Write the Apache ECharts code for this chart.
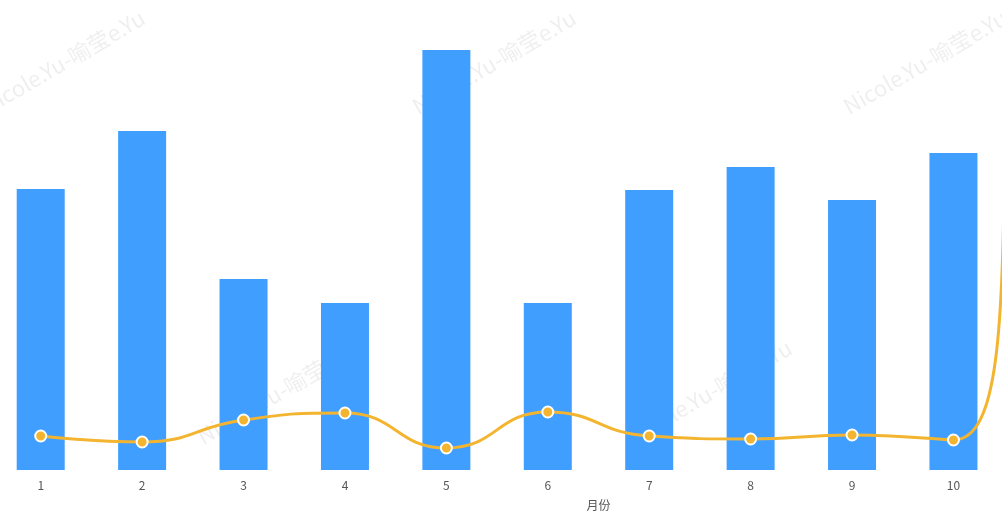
<!DOCTYPE html>
<html>
<head>
<meta charset="utf-8">
<script src="https://cdn.jsdelivr.net/npm/echarts@6/dist/echarts.min.js"></script>
<style>
html,body{margin:0;padding:0;background:#fff;overflow:hidden;width:1002px;height:523px;position:relative;}
#chart{position:absolute;left:-10px;top:0;width:1217px;height:523px;}
</style>
</head>
<body>
<div id="chart"></div>
<script>
// Data
const months = ['1','2','3','4','5','6','7','8','9','10','11','12'];
const barValues = [281, 339, 191, 167, 420, 167, 280, 303, 270, 317, 300, 290];
const lineValues = [34, 28, 50, 57, 22, 58, 34, 31, 35, 30, 880, 940];
const axisName = '月份';
const watermarkText = 'Nicole.Yu-喻莹e.Yu';

const chart = echarts.init(document.getElementById('chart'), null, {renderer: 'canvas'});

// watermark centers in page coordinates (chart div is shifted 10px left)
const wmCenters = [[63,62],[494,62],[925,62],[-152,392],[279,392],[710,392],[1141,392]];
const graphics = wmCenters.map(c => ({
  type: 'text',
  x: c[0] + 10, y: c[1],
  rotation: Math.PI / 6,
  z: 0,
  silent: true,
  style: {
    text: watermarkText,
    fontSize: 22,
    fontFamily: 'Microsoft YaHei, Noto Sans CJK SC, sans-serif',
    fill: 'rgba(0,0,0,0.065)',
    align: 'center',
    verticalAlign: 'middle'
  }
}));

chart.setOption({
  animation: false,
  backgroundColor: '#fff',
  graphic: graphics,
  grid: {left: 0, right: 0, top: 30, bottom: 53, containLabel: false},
  xAxis: {
    type: 'category',
    data: months,
    name: axisName,
    nameLocation: 'middle',
    nameGap: 29,
    nameTextStyle: {color: '#555', fontSize: 12, fontFamily: 'Microsoft YaHei, Noto Sans CJK SC, sans-serif'},
    axisLine: {show: false},
    axisTick: {show: false},
    axisLabel: {color: '#555', fontSize: 12, margin: 9, fontFamily: 'Microsoft YaHei, Noto Sans CJK SC, sans-serif'}
  },
  yAxis: [
    {type: 'value', min: 0, max: 440, show: false, splitLine: {show: false}},
    {type: 'value', min: 0, max: 440, show: false, splitLine: {show: false}}
  ],
  series: [
    {
      type: 'bar',
      data: barValues,
      barWidth: 48,
      yAxisIndex: 0,
      itemStyle: {color: '#409EFF'},
      z: 2
    },
    {
      type: 'line',
      data: lineValues,
      yAxisIndex: 1,
      smooth: true,
      clip: false,
      symbol: 'circle',
      symbolSize: 11,
      showAllSymbol: true,
      lineStyle: {color: '#F3B530', width: 3},
      itemStyle: {color: '#F3B530', borderColor: '#fff', borderWidth: 2},
      z: 3
    }
  ]
});
</script>
</body>
</html>
